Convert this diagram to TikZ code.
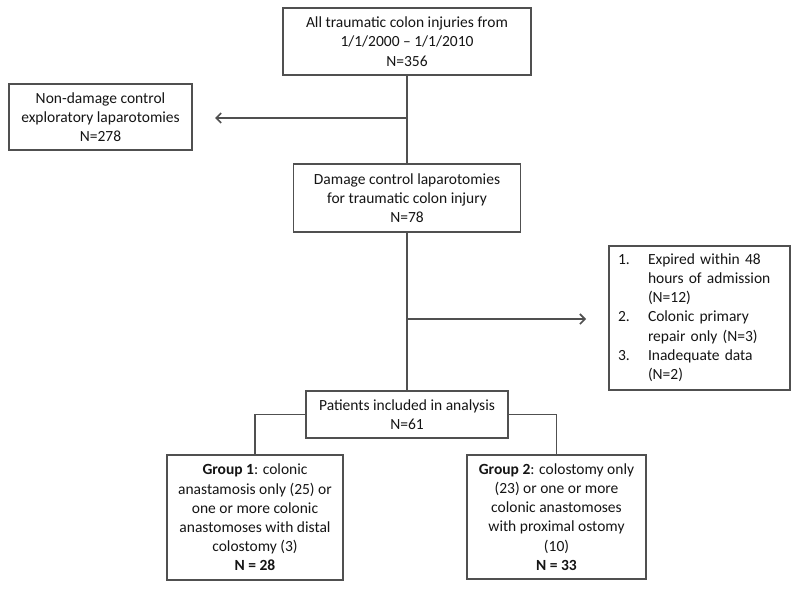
\documentclass[tikz,border=0pt]{standalone}
\usepackage{fontspec}
\setmainfont{Carlito}
\usetikzlibrary{arrows.meta}
\definecolor{linec}{HTML}{505050}
\definecolor{txt}{HTML}{151515}
\tikzset{
  box/.style={draw=linec, line width=1.3pt, align=center, inner sep=0pt, text=txt,
    font=\fontsize{15.5}{19.2}\selectfont},
  conn/.style={draw=linec, line width=1.3pt},
  arr/.style={conn, -{Straight Barb[length=5pt,width=10pt,line width=1.6pt]}}
}
\begin{document}
\begin{tikzpicture}[x=1pt,y=-1pt]
\useasboundingbox (0,0) rectangle (800,589);
\fill[white] (0,0) rectangle (800,589);
\node[box, minimum width=248pt, minimum height=67pt] (top) at (407,41.5)
  {All traumatic colon injuries from\\1/1/2000 -- 1/1/2010\\N=356};
\node[box, minimum width=183pt, minimum height=66pt] (nondc) at (100.5,117)
  {Non-damage control\\exploratory laparotomies\\N=278};
\node[box, minimum width=227pt, minimum height=68pt] (dc) at (407,198)
  {Damage control laparotomies\\for traumatic colon injury\\N=78};
\node[box, minimum width=181pt, minimum height=144pt, text width=163pt, align=left] (excl) at (699.5,318)
  {\begin{tabular}{@{}p{30pt}@{}l@{}}
  1. & Expired within 48\\
     & hours of admission\\
     & (N=12)\\
  2. & Colonic primary\\
     & repair only (N=3)\\
  3. & Inadequate data\\
     & (N=2)
  \end{tabular}};
\node[box, minimum width=202pt, minimum height=47pt] (pat) at (407,414.5)
  {Patients included in analysis\\N=61};
\node[box, minimum width=176pt, minimum height=125pt] (g1) at (255,517.5)
  {\textbf{Group 1}: colonic\\anastamosis only (25) or\\one or more colonic\\anastomoses with distal\\colostomy (3)\\\textbf{N = 28}};
\node[box, minimum width=179pt, minimum height=124pt] (g2) at (556.5,517)
  {\textbf{Group 2}: colostomy only\\(23) or one or more\\colonic anastomoses\\with proximal ostomy\\(10)\\\textbf{N = 33}};
\coordinate (j1) at (407,118);
\coordinate (e1) at (215,118);
\coordinate (j2) at (407,319);
\coordinate (e2) at (586,319);
\draw[conn] (top.south) -- (dc.north);
\draw[arr] (j1) -- (e1);
\draw[conn] (dc.south) -- (pat.north);
\draw[arr] (j2) -- (e2);
\draw[conn] (pat.west) -| (g1.north);
\draw[conn] (pat.east) -| (g2.north);
\end{tikzpicture}
\end{document}
